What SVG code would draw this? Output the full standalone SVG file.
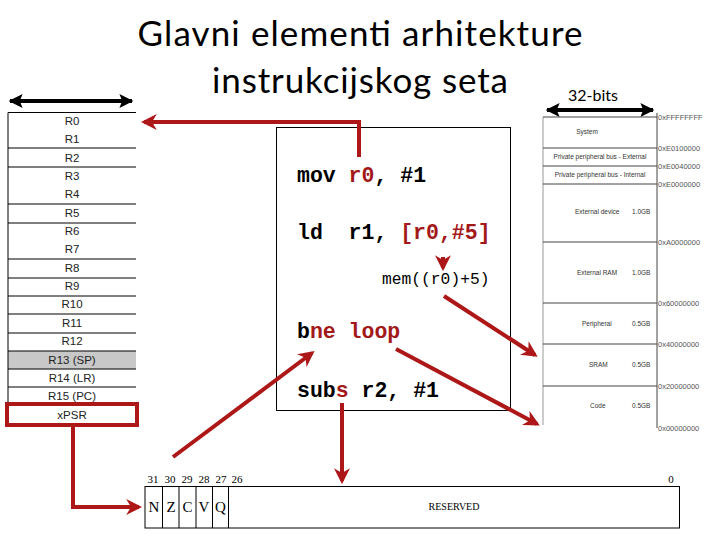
<svg xmlns="http://www.w3.org/2000/svg" width="720" height="540" viewBox="0 0 720 540">
<defs>
<style>
.title{font-family:Lato,"Open Sans","Noto Sans",sans-serif;font-size:35px;fill:#000}
.reg{font-family:"Liberation Sans",Arial,sans-serif;font-size:11.5px;fill:#222;text-anchor:middle}
.rl{stroke:#000;stroke-width:1}
.mm{font-family:"Liberation Sans",Arial,sans-serif;font-size:6.5px;fill:#333}
.addr{font-family:"Liberation Sans",Arial,sans-serif;font-size:7.5px;fill:#555}
.ml{stroke:#444;stroke-width:1}
.code{font-family:"Liberation Mono","DejaVu Sans Mono",monospace;font-size:21.5px;font-weight:bold;fill:#000}
.red{fill:#a31818}
.mem{font-family:"Liberation Mono","DejaVu Sans Mono",monospace;font-size:16.3px;fill:#000}
.bits{font-family:"Liberation Serif","Times New Roman",serif;fill:#000}
.rarrow{stroke:#ad1717;stroke-width:4;fill:none}
.karrow{stroke:#000;stroke-width:4;fill:none}
</style>
<marker id="ra" viewBox="0 0 10 10" refX="8" refY="5" markerWidth="4" markerHeight="4" orient="auto" markerUnits="strokeWidth">
<path d="M0,0 L10,5 L0,10 L3,5 z" fill="#ad1717"/>
</marker>
<marker id="ka" viewBox="0 0 10 10" refX="9" refY="5" markerWidth="4" markerHeight="3.5" orient="auto-start-reverse" markerUnits="strokeWidth">
<path d="M0,0 L10,5 L0,10 L2,5 z" fill="#000"/>
</marker>
</defs>

<g id="title">
<text class="title" x="360" y="46" text-anchor="middle" textLength="445">Glavni elementi arhitekture</text>
<text class="title" x="360" y="93" text-anchor="middle" textLength="296">instrukcijskog seta</text>
</g>

<g id="registers">
<line class="karrow" x1="10" y1="101" x2="132" y2="101" marker-start="url(#ka)" marker-end="url(#ka)"/>
<rect x="8" y="351" width="128" height="18.2" fill="#c8c8c8"/>
<line class="rl" x1="8" y1="112.5" x2="8" y2="405"/>
<line class="rl" x1="8" y1="112.5" x2="136" y2="112.5"/>
<line class="rl" x1="8" y1="148" x2="136" y2="148"/>
<line class="rl" x1="8" y1="167" x2="136" y2="167"/>
<line class="rl" x1="8" y1="204" x2="136" y2="204"/>
<line class="rl" x1="8" y1="223" x2="136" y2="223"/>
<line class="rl" x1="8" y1="259" x2="136" y2="259"/>
<line class="rl" x1="8" y1="278" x2="136" y2="278"/>
<line class="rl" x1="8" y1="296" x2="136" y2="296"/>
<line class="rl" x1="8" y1="314" x2="136" y2="314"/>
<line class="rl" x1="8" y1="333" x2="136" y2="333"/>
<line class="rl" x1="8" y1="351" x2="136" y2="351"/>
<line class="rl" x1="8" y1="369" x2="136" y2="369"/>
<line class="rl" x1="8" y1="387" x2="136" y2="387"/>
<text class="reg" x="72" y="125">R0</text>
<text class="reg" x="72" y="143">R1</text>
<text class="reg" x="72" y="161.5">R2</text>
<text class="reg" x="72" y="180">R3</text>
<text class="reg" x="72" y="198">R4</text>
<text class="reg" x="72" y="216.5">R5</text>
<text class="reg" x="72" y="235">R6</text>
<text class="reg" x="72" y="253">R7</text>
<text class="reg" x="72" y="271.5">R8</text>
<text class="reg" x="72" y="290">R9</text>
<text class="reg" x="72" y="308">R10</text>
<text class="reg" x="72" y="326.5">R11</text>
<text class="reg" x="72" y="345">R12</text>
<text class="reg" x="72" y="363.5">R13 (SP)</text>
<text class="reg" x="72" y="381.5">R14 (LR)</text>
<text class="reg" x="72" y="400">R15 (PC)</text>
</g>

<g id="xpsr">
<rect x="7" y="404" width="130" height="21" fill="#fff" stroke="#ad1717" stroke-width="4"/>
<text class="reg" x="72" y="418.5">xPSR</text>
</g>

<g id="memmap">
<text x="593" y="101" text-anchor="middle" font-family="Lato,'Open Sans',sans-serif" font-size="16" fill="#000">32-bits</text>
<line class="karrow" x1="547" y1="110" x2="653" y2="110" marker-start="url(#ka)" marker-end="url(#ka)"/>
<line stroke="#999" stroke-width="1" x1="543" y1="117" x2="543" y2="425"/>
<line class="ml" x1="657" y1="113" x2="657" y2="428"/>
<line class="ml" x1="543" y1="117" x2="657" y2="117"/>
<line class="ml" x1="543" y1="148" x2="657" y2="148"/>
<line class="ml" x1="543" y1="166" x2="657" y2="166"/>
<line class="ml" x1="543" y1="184" x2="657" y2="184"/>
<line class="ml" x1="543" y1="242" x2="657" y2="242"/>
<line class="ml" x1="543" y1="303" x2="657" y2="303"/>
<line class="ml" x1="543" y1="344" x2="657" y2="344"/>
<line class="ml" x1="543" y1="386" x2="657" y2="386"/>
<text class="mm" x="587" y="134" text-anchor="middle">System</text>
<text class="mm" x="600" y="159" text-anchor="middle">Private peripheral bus - External</text>
<text class="mm" x="600" y="177" text-anchor="middle">Private peripheral bus - Internal</text>
<text class="mm" x="575" y="214">External device</text>
<text class="mm" x="632" y="214">1.0GB</text>
<text class="mm" x="577" y="275">External RAM</text>
<text class="mm" x="632" y="275">1.0GB</text>
<text class="mm" x="582" y="326">Peripheral</text>
<text class="mm" x="632" y="326">0.5GB</text>
<text class="mm" x="589" y="367">SRAM</text>
<text class="mm" x="632" y="367">0.5GB</text>
<text class="mm" x="590" y="408">Code</text>
<text class="mm" x="632" y="408">0.5GB</text>
<text class="addr" x="658" y="120">0xFFFFFFFF</text>
<text class="addr" x="658" y="151">0xE0100000</text>
<text class="addr" x="658" y="169">0xE0040000</text>
<text class="addr" x="658" y="187">0xE0000000</text>
<text class="addr" x="658" y="245">0xA0000000</text>
<text class="addr" x="658" y="306">0x60000000</text>
<text class="addr" x="658" y="347">0x40000000</text>
<text class="addr" x="658" y="389">0x20000000</text>
<text class="addr" x="658" y="431">0x00000000</text>
</g>

<g id="code">
<rect x="276.5" y="127.5" width="234" height="283" fill="#fff" stroke="#000" stroke-width="1"/>
<text class="code" x="297" y="182" xml:space="preserve">mov <tspan class="red">r0</tspan>, #1</text>
<text class="code" x="297" y="239" xml:space="preserve">ld  r1, <tspan class="red">[r0,#5]</tspan></text>
<text class="mem" x="382" y="284">mem((r0)+5)</text>
<text class="code" x="297" y="338" xml:space="preserve">b<tspan class="red">ne loop</tspan></text>
<text class="code" x="297" y="397" xml:space="preserve">sub<tspan class="red">s</tspan> r2, #1</text>
</g>

<g id="psr-bits">
<rect x="145" y="486.5" width="534.5" height="41.5" fill="#fff" stroke="#000" stroke-width="1"/>
<line class="rl" x1="162.5" y1="486.5" x2="162.5" y2="528"/>
<line class="rl" x1="179" y1="486.5" x2="179" y2="528"/>
<line class="rl" x1="196" y1="486.5" x2="196" y2="528"/>
<line class="rl" x1="212.5" y1="486.5" x2="212.5" y2="528"/>
<line class="rl" x1="228.5" y1="486.5" x2="228.5" y2="528"/>
<g class="bits" font-size="15" text-anchor="middle">
<text x="154" y="512">N</text>
<text x="171" y="512">Z</text>
<text x="187.5" y="512">C</text>
<text x="204" y="512">V</text>
<text x="220.5" y="512">Q</text>
</g>
<g class="bits" font-size="11" text-anchor="middle">
<text x="153" y="483">31</text>
<text x="170" y="483">30</text>
<text x="187" y="483">29</text>
<text x="204" y="483">28</text>
<text x="221" y="483">27</text>
<text x="237" y="483">26</text>
<text x="671" y="483">0</text>
</g>
<text class="bits" x="454" y="510" font-size="10" text-anchor="middle">RESERVED</text>
</g>

<g id="connectors">
<polyline class="rarrow" points="359,157 359,122 144,122" marker-end="url(#ra)"/>
<line class="rarrow" x1="443" y1="257" x2="443" y2="268" marker-end="url(#ra)"/>
<line class="rarrow" x1="444" y1="296" x2="535" y2="355" marker-end="url(#ra)"/>
<line class="rarrow" x1="396" y1="349" x2="537" y2="424" marker-end="url(#ra)"/>
<line class="rarrow" x1="173" y1="457" x2="312" y2="353" marker-end="url(#ra)"/>
<line class="rarrow" x1="342" y1="403" x2="342" y2="481" marker-end="url(#ra)"/>
<polyline class="rarrow" points="73,425 73,507 139,507" marker-end="url(#ra)"/>
</g>
</svg>
